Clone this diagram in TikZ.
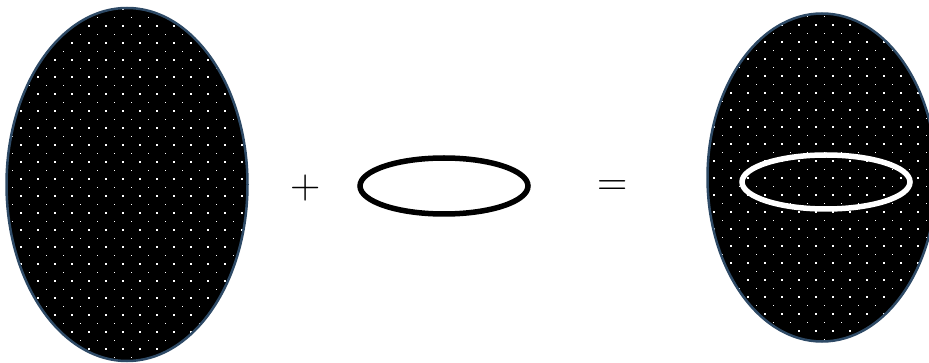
\documentclass[tikz,border=0pt]{standalone}
\usetikzlibrary{shapes.geometric}
\begin{document}
\begin{tikzpicture}[x=1pt,y=-1pt,
  rim/.style={draw=rimblue,line width=2.5pt,ellipse,inner sep=0pt},
  ring/.style={line width=5.5pt,ellipse,inner sep=0pt},
  sym/.style={inner sep=0pt,font=\fontsize{42}{44}\selectfont}]
\definecolor{rimblue}{HTML}{2E4A66}
\useasboundingbox (0,0) rectangle (929,363);
% left ellipse
\begin{scope}
  \clip (127,184.5) ellipse [x radius=121,y radius=177];
  \fill[black] (0,0) rectangle (260,363);
  \foreach \i in {0,...,15}{
    \foreach \j in {0,...,21}{
      \fill[white] ({3.7+17*\i-1.1},{9+17*\j-1.1}) rectangle ++(2.2,2.2);
      \fill[white] ({12.2+17*\i-0.6},{0.5+17*\j-0.6}) rectangle ++(1.2,1.2);
    }}
\end{scope}
\node[rim,minimum width=241pt,minimum height=353pt] (L) at (127,184.5) {};
% plus
\node[sym] (plus) at (306,188) {+};
% small ellipse
\node[ring,draw=black,minimum width=168pt,minimum height=56pt] (S) at (444,186) {};
% equals
\node[sym] (eq) at (613,188) {=};
% right ellipse
\begin{scope}
  \clip (822,177.5) ellipse [x radius=115,y radius=164.5];
  \fill[black] (700,0) rectangle (940,363);
  \foreach \i in {0,...,15}{
    \foreach \j in {0,...,21}{
      \fill[white] ({697+17*\i-1.1},{8.3+17*\j-1.1}) rectangle ++(2.2,2.2);
      \fill[white] ({705.5+17*\i-0.6},{-0.2+17*\j-0.6}) rectangle ++(1.2,1.2);
    }}
\end{scope}
\node[rim,minimum width=229pt,minimum height=328pt] (R) at (822,177.5) {};
\node[ring,draw=white,minimum width=168pt,minimum height=54pt] (W) at (826,182) {};
\end{tikzpicture}
\end{document}
